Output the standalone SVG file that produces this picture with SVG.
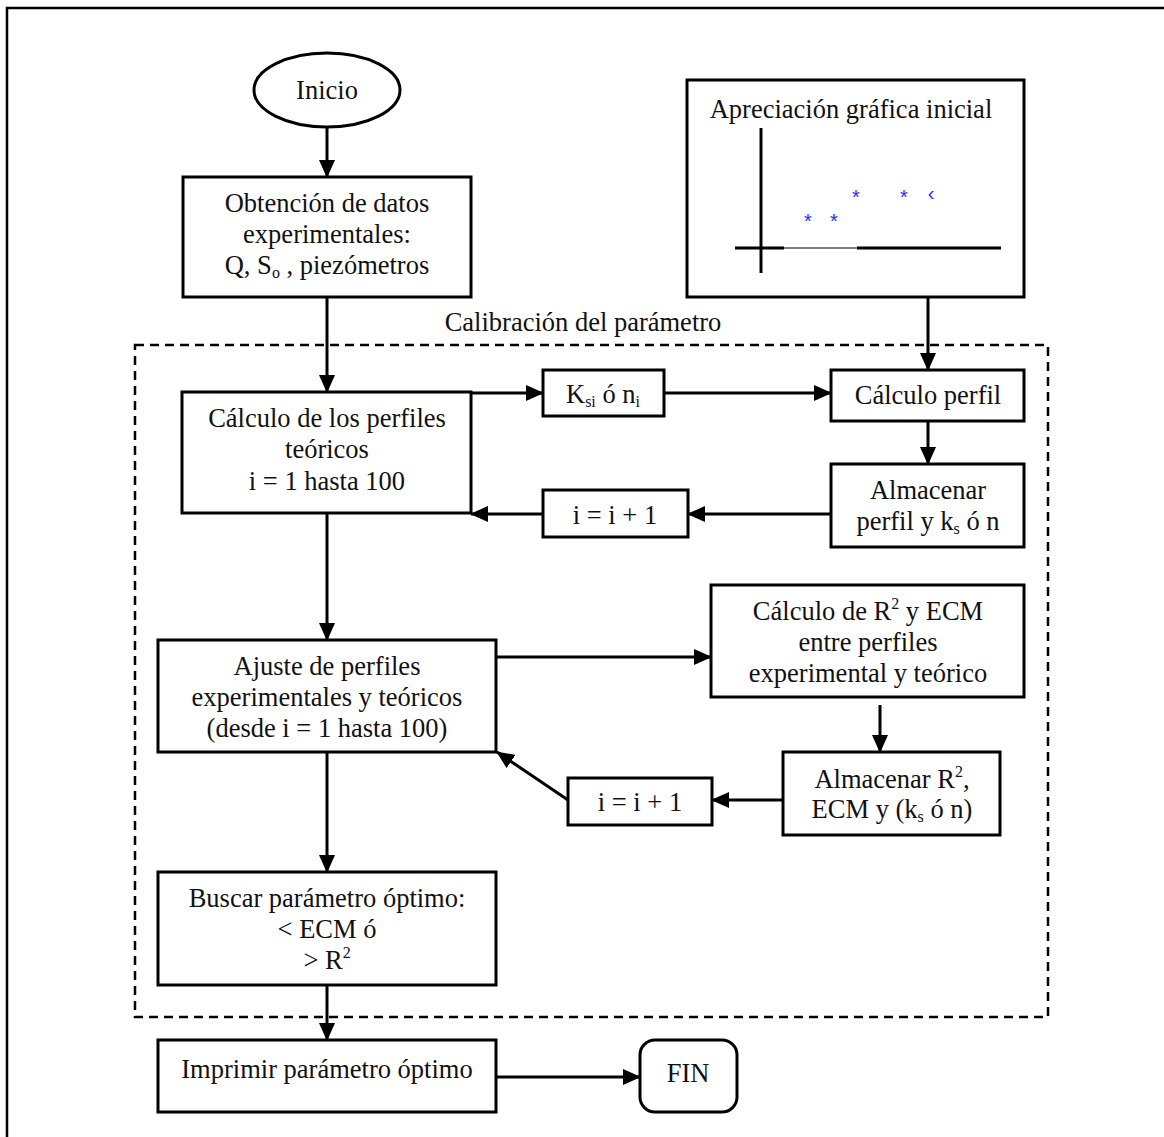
<svg xmlns="http://www.w3.org/2000/svg" width="1164" height="1137" viewBox="0 0 1164 1137">
<style>
.box{fill:#fff;stroke:#000;stroke-width:3}
.t{font-family:"Liberation Serif","Times New Roman",serif;font-size:26.5px;fill:#111;text-anchor:middle}
.c{fill:none;stroke:#000;stroke-width:3}
.ast{font-family:"Liberation Sans",sans-serif;font-size:20px;fill:#2a2aff;text-anchor:middle}
</style>
<defs>
<marker id="ah" markerUnits="userSpaceOnUse" markerWidth="20" markerHeight="16" refX="17" refY="8" orient="auto">
<path d="M0,0 L18,8 L0,16 Z" fill="#000"/>
</marker>
</defs>
<rect x="0" y="0" width="1164" height="1137" fill="#fff"/>
<rect x="7" y="8" width="1170" height="1140" fill="none" stroke="#000" stroke-width="2.5"/>

<g id="cal-frame">
<rect x="135" y="345" width="913" height="672" fill="none" stroke="#000" stroke-width="2.5" stroke-dasharray="9,6"/>
<text class="t" x="583" y="331">Calibración del parámetro</text>
</g>

<g id="connectors">
<line class="c" x1="327" y1="127" x2="327" y2="177" marker-end="url(#ah)"/>
<line class="c" x1="327" y1="297" x2="327" y2="392" marker-end="url(#ah)"/>
<line class="c" x1="928" y1="297" x2="928" y2="370" marker-end="url(#ah)"/>
<line class="c" x1="471" y1="393" x2="543" y2="393" marker-end="url(#ah)"/>
<line class="c" x1="664" y1="393" x2="831" y2="393" marker-end="url(#ah)"/>
<line class="c" x1="928" y1="421" x2="928" y2="464" marker-end="url(#ah)"/>
<line class="c" x1="831" y1="514" x2="688" y2="514" marker-end="url(#ah)"/>
<line class="c" x1="543" y1="514" x2="471" y2="514" marker-end="url(#ah)"/>
<line class="c" x1="327" y1="513" x2="327" y2="640" marker-end="url(#ah)"/>
<line class="c" x1="496" y1="657" x2="711" y2="657" marker-end="url(#ah)"/>
<line class="c" x1="880" y1="705" x2="880" y2="752" marker-end="url(#ah)"/>
<line class="c" x1="783" y1="800" x2="712" y2="800" marker-end="url(#ah)"/>
<line class="c" x1="568" y1="800" x2="497" y2="752" marker-end="url(#ah)"/>
<line class="c" x1="327" y1="752" x2="327" y2="872" marker-end="url(#ah)"/>
<line class="c" x1="327" y1="985" x2="327" y2="1040" marker-end="url(#ah)"/>
<line class="c" x1="496" y1="1077" x2="640" y2="1077" marker-end="url(#ah)"/>
</g>

<g id="inicio">
<ellipse class="box" cx="327" cy="90" rx="73" ry="37"/>
<text class="t" x="327" y="99">Inicio</text>
</g>

<g id="obtencion">
<rect class="box" x="183" y="177" width="288" height="120"/>
<text class="t" x="327" y="212">Obtención de datos</text>
<text class="t" x="327" y="243">experimentales:</text>
<text class="t" x="327" y="274">Q, S<tspan font-size="16" dy="4">o</tspan><tspan dy="-4"> , piezómetros</tspan></text>
</g>

<g id="apreciacion">
<rect class="box" x="687" y="80" width="337" height="217"/>
<text class="t" x="851" y="118">Apreciación gráfica inicial</text>
<line x1="761" y1="128" x2="761" y2="273" stroke="#000" stroke-width="3"/>
<line x1="735" y1="248" x2="784" y2="248" stroke="#000" stroke-width="3"/>
<line x1="784" y1="248" x2="857" y2="248" stroke="#555" stroke-width="1.5"/>
<line x1="857" y1="248" x2="1001" y2="248" stroke="#000" stroke-width="3"/>
<text class="ast" x="808" y="228">*</text>
<text class="ast" x="834" y="228">*</text>
<text class="ast" x="856" y="204">*</text>
<text class="ast" x="904" y="204">*</text>
<text class="ast" x="931" y="200" font-size="12">‹</text>
</g>

<g id="calculo-perfiles">
<rect class="box" x="182" y="392" width="289" height="121"/>
<text class="t" x="327" y="427">Cálculo de los perfiles</text>
<text class="t" x="327" y="458">teóricos</text>
<text class="t" x="327" y="490">i = 1 hasta 100</text>
</g>

<g id="ksi">
<rect class="box" x="543" y="370" width="121" height="46"/>
<text class="t" x="603" y="403">K<tspan font-size="16" dy="4">si</tspan><tspan dy="-4"> ó n</tspan><tspan font-size="16" dy="4">i</tspan></text>
</g>

<g id="calculo-perfil">
<rect class="box" x="831" y="370" width="193" height="51"/>
<text class="t" x="928" y="404">Cálculo perfil</text>
</g>

<g id="almacenar-perfil">
<rect class="box" x="831" y="464" width="193" height="83"/>
<text class="t" x="928" y="499">Almacenar</text>
<text class="t" x="928" y="530">perfil y k<tspan font-size="16" dy="4">s</tspan><tspan dy="-4"> ó n</tspan></text>
</g>

<g id="inc1">
<rect class="box" x="543" y="490" width="145" height="47"/>
<text class="t" x="615" y="524">i = i + 1</text>
</g>

<g id="ajuste">
<rect class="box" x="158" y="640" width="338" height="112"/>
<text class="t" x="327" y="675">Ajuste de perfiles</text>
<text class="t" x="327" y="706">experimentales y teóricos</text>
<text class="t" x="327" y="737">(desde i = 1 hasta 100)</text>
</g>

<g id="calculo-r2">
<rect class="box" x="711" y="585" width="313" height="112"/>
<text class="t" x="868" y="620">Cálculo de R<tspan font-size="16" dy="-11">2</tspan><tspan dy="11"> y ECM</tspan></text>
<text class="t" x="868" y="651">entre perfiles</text>
<text class="t" x="868" y="682">experimental y teórico</text>
</g>

<g id="almacenar-r2">
<rect class="box" x="783" y="752" width="217" height="83"/>
<text class="t" x="892" y="788">Almacenar R<tspan font-size="16" dy="-11">2</tspan><tspan dy="11">,</tspan></text>
<text class="t" x="892" y="818">ECM y (k<tspan font-size="16" dy="4">s</tspan><tspan dy="-4"> ó n)</tspan></text>
</g>

<g id="inc2">
<rect class="box" x="568" y="778" width="144" height="47"/>
<text class="t" x="640" y="811">i = i + 1</text>
</g>

<g id="buscar">
<rect class="box" x="158" y="872" width="338" height="113"/>
<text class="t" x="327" y="907">Buscar parámetro óptimo:</text>
<text class="t" x="327" y="938">&lt; ECM ó</text>
<text class="t" x="327" y="969">&gt; R<tspan font-size="16" dy="-11">2</tspan></text>
</g>

<g id="imprimir">
<rect class="box" x="158" y="1040" width="338" height="72"/>
<text class="t" x="327" y="1078">Imprimir parámetro óptimo</text>
</g>

<g id="fin">
<rect class="box" x="640" y="1040" width="97" height="72" rx="15"/>
<text class="t" x="688" y="1082">FIN</text>
</g>
</svg>
